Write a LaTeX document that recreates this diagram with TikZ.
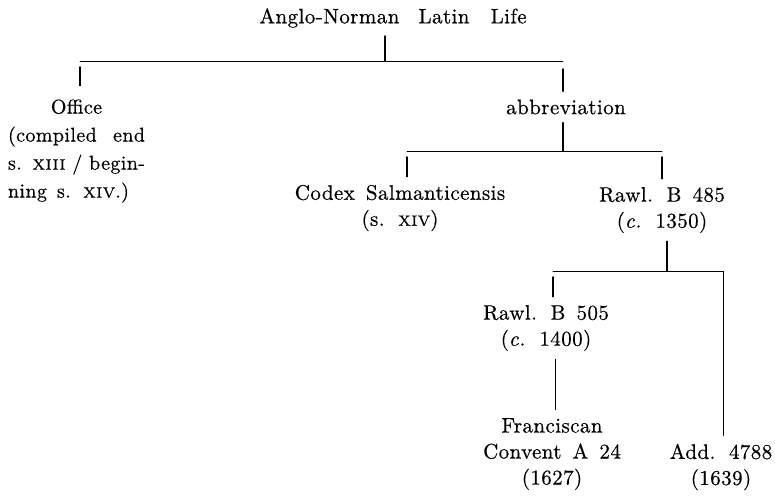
\documentclass[tikz,border=0pt]{standalone}
\usepackage{fontspec}
\setmainfont{Latin Modern Roman}[LetterSpace=2,WordSpace=1.5,FakeBold=0.5]
\newcommand{\smcap}[1]{{\fontsize{7.5}{9}\selectfont #1}}
\newcommand{\fullline}[1]{\makebox[68.5pt][s]{#1}}
\newcommand{\officefont}{\fontsize{10}{14}\selectfont\spaceskip=3pt plus 3pt minus 1pt\relax}
\begin{document}
\begin{tikzpicture}[x=0.5pt,y=-0.5pt,line cap=round,font=\fontsize{10.5}{13}\selectfont,
		lab/.style={align=center,inner sep=4pt},
		tick/.style={line width=0.8pt},
		bar/.style={line width=0.4pt}]
			\useasboundingbox (0,0) rectangle (775,496);
			\node[lab] (root) at (393,18) {Anglo-Norman\hspace{4pt} Latin\hspace{5pt} Life};
			\node[lab,font=\officefont] (office) at (76.5,150) {\begin{tabular}{@{}l@{}}\multicolumn{1}{@{}c@{}}{Office}\\\fullline{(compiled end}\\\fullline{s. \smcap{XIII} / begin-}\\\spaceskip=5pt\relax ning s. \smcap{XIV}.)\end{tabular}};
			\node[lab] (abbr) at (566,107) {abbreviation};
			\node[lab] (codex) at (400,208) {Codex Salmanticensis\\(s. \smcap{XIV})\hspace{9pt}};
			\node[lab] (rawlA) at (662,210) {Rawl. B 485\\(\textit{c.} 1350)};
			\node[lab] (rawlB) at (546,328) {Rawl. B 505\\(\textit{c.} 1400)};
			\node[lab] (franc) at (552,454) {Franciscan\\Convent A 24\\(1627)};
			\node[lab] (add) at (721,467) {Add. 4788\\(1639)};
			\coordinate (j0) at (385,61);
			\coordinate (oL) at (80,61);
			\coordinate (aR) at (563,61);
			\draw[tick] (root.south -| j0) -- (j0);
			\draw[bar] (oL) -- (aR);
			\draw[tick] ([yshift=-3pt]oL) -- (oL |- office.north);
			\draw[tick] ([yshift=-4pt]aR) -- (aR |- abbr.north);
			\coordinate (j1) at (563,151);
			\coordinate (cL) at (407,151);
			\coordinate (rR) at (662,151);
			\draw[tick] (abbr.south -| j1) -- (j1);
			\draw[bar] (cL) -- (rR);
			\draw[tick] ([yshift=-3pt]cL) -- (cL |- codex.north);
			\draw[tick] ([yshift=-3pt]rR) -- (rR |- rawlA.north);
			\coordinate (j2) at (667,271);
			\coordinate (bL) at (553,271);
			\coordinate (dR) at (723,271);
			\draw[tick] (rawlA.south -| j2) -- (j2);
			\draw[bar] (bL) -- (dR) -- (dR |- add.north);
			\draw[tick] ([yshift=-3pt]bL) -- (bL |- rawlB.north);
			\coordinate (fV) at (555,0);
			\draw[bar] (rawlB.south -| fV) -- (franc.north -| fV);
		\end{tikzpicture}
\end{document}
